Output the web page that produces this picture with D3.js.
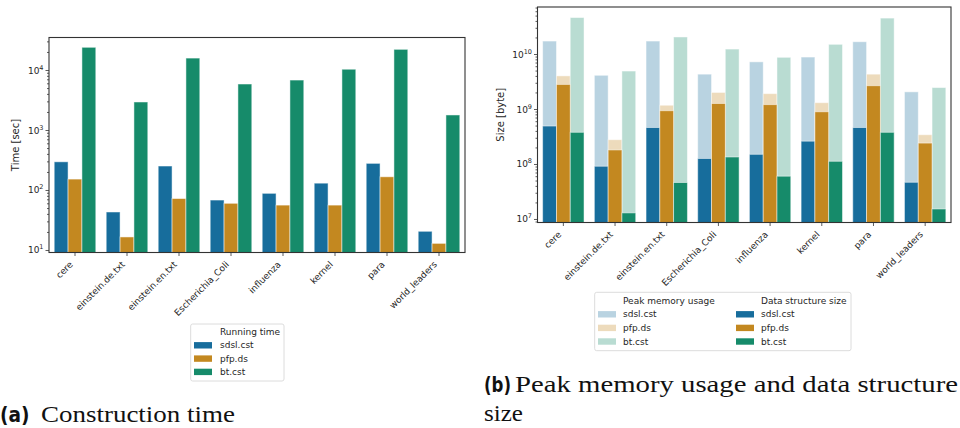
<!DOCTYPE html>
<html><head><meta charset="utf-8">
<script src="https://cdn.jsdelivr.net/npm/d3@7"></script>
<style>body{margin:0;background:#fff} svg{display:block}</style>
</head><body><svg id="c" width="960" height="428"></svg>
<script>
const categories = ["cere","einstein.de.txt","einstein.en.txt","Escherichia_Coli","influenza","kernel","para","world_leaders"];
const series = ["sdsl.cst","pfp.ds","bt.cst"];
const timeSdsl = [295,43,251,68,88,130,278,20.5];
const timePfp  = [152,16.5,72,60,56,56,166,12.9];
const timeBt   = [23900,2930,15800,5840,6800,10300,22100,1780];
const peakSdsl = [1.72e10,4.1e9,1.72e10,4.3e9,7.2e9,8.8e9,1.67e10,2.05e9];
const peakPfp  = [4.0e9,2.76e8,1.17e9,2.0e9,1.9e9,1.3e9,4.3e9,3.4e8];
const peakBt   = [4.6e10,4.9e9,2.04e10,1.23e10,8.7e9,1.5e10,4.5e10,2.45e9];
const sizeSdsl = [4.9e8,9.1e7,4.6e8,1.26e8,1.5e8,2.6e8,4.6e8,4.65e7];
const sizePfp  = [2.8e9,1.8e8,9.3e8,1.26e9,1.2e9,8.9e8,2.65e9,2.4e8];
const sizeBt   = [3.77e8,1.29e7,4.6e7,1.34e8,6.0e7,1.12e8,3.77e8,1.52e7];
const timeExponents = [1,2,3,4];
const sizeExponents = [7,8,9,10];
const colors = ["#176d9c","#c38820","#168b6a"];

const svg = d3.select("#c");
const FONT = "DejaVu Sans, sans-serif";
const TXT = "#262626";

function panel(o) {
  const g = svg.append("g");
  const x = d3.scaleBand().domain(categories).range([o.x0, o.x1]).paddingInner(0.2).paddingOuter(0.1);
  const xs = d3.scaleBand().domain(series).range([0, x.bandwidth()]);
  const y = d3.scaleLog().domain(o.domain).range([o.y1, o.y0]);

  function bars(layers, opacity) {
    layers.forEach((vals, si) => {
      g.append("g").selectAll("rect").data(vals).join("rect")
        .attr("x", (d, i) => x(categories[i]) + xs(series[si]))
        .attr("width", xs.bandwidth())
        .attr("y", d => y(d))
        .attr("height", d => o.y1 - y(d))
        .attr("fill", colors[si])
        .attr("fill-opacity", opacity)
        .attr("stroke", "#fff").attr("stroke-opacity", opacity < 1 ? 0.5 : 0.55).attr("stroke-width", 0.9);
    });
  }
  o.layers.forEach(l => bars(l.data, l.opacity));

  // minor ticks
  const lo = Math.floor(Math.log10(o.domain[0])), hi = Math.ceil(Math.log10(o.domain[1]));
  const minor = [];
  for (let e = lo; e <= hi; e++) for (let m = 2; m <= 9; m++) {
    const v = m * Math.pow(10, e);
    if (v > o.domain[0] && v < o.domain[1]) minor.push(v);
  }
  const major = o.exps.map(e => Math.pow(10, e));
  const ax = g.append("g").attr("transform", `translate(${o.x0},0)`);
  ax.call(d3.axisLeft(y).tickValues(minor).tickSize(2).tickFormat(() => ""));
  ax.append("g").call(d3.axisLeft(y).tickValues(major).tickSize(3.5).tickFormat(() => ""));
  ax.selectAll(".domain").remove();
  ax.selectAll("line").attr("stroke", "#333").attr("stroke-width", 0.8);
  // major labels
  const lab = g.append("g");
  o.exps.forEach(e => {
    const t = lab.append("text").attr("x", o.x0 - 5.5).attr("y", y(Math.pow(10, e)) + 3.5)
      .attr("text-anchor", "end").attr("font-family", FONT).attr("font-size", 9).attr("fill", TXT);
    t.append("tspan").text("10");
    t.append("tspan").attr("dy", -4).attr("font-size", 6.5).text(e);
  });
  // x axis
  const bx = g.append("g").attr("transform", `translate(0,${o.y1})`)
    .call(d3.axisBottom(x).tickSize(3.5).tickFormat(() => ""));
  bx.selectAll(".domain").remove();
  bx.selectAll("line").attr("stroke", "#333").attr("stroke-width", 0.8);
  g.append("g").selectAll("text").data(categories).join("text")
    .attr("transform", d => `translate(${x(d) + x.bandwidth() / 2 - 1.5},${o.y1 + 12.5}) rotate(-45)`)
    .attr("text-anchor", "end").attr("font-family", FONT).attr("font-size", 9).attr("fill", TXT)
    .text(d => d);
  // frame
  g.append("rect").attr("x", o.x0).attr("y", o.y0).attr("width", o.x1 - o.x0).attr("height", o.y1 - o.y0)
    .attr("fill", "none").attr("stroke", "#333").attr("stroke-width", 1.1);
  // y label
  g.append("text").attr("transform", `translate(${o.ylx},${(o.y0 + o.y1) / 2}) rotate(-90)`)
    .attr("text-anchor", "middle").attr("dominant-baseline", "central")
    .attr("font-family", FONT).attr("font-size", 10).attr("fill", TXT).text(o.ylabel);
}

panel({
  x0: 49, x1: 465, y0: 37.5, y1: 252.5,
  domain: [Math.pow(10, 0.9583), Math.pow(10, 4.5417)],
  exps: timeExponents, ylabel: "Time [sec]", ylx: 15,
  layers: [{data: [timeSdsl, timePfp, timeBt], opacity: 1}]
});
panel({
  x0: 537.5, x1: 951, y0: 7, y1: 222.5,
  domain: [Math.pow(10, 6.936), Math.pow(10, 10.855)],
  exps: sizeExponents, ylabel: "Size [byte]", ylx: 500,
  layers: [{data: [peakSdsl, peakPfp, peakBt], opacity: 0.3}, {data: [sizeSdsl, sizePfp, sizeBt], opacity: 1}]
});

function legendBox(x, y, w, h) {
  svg.append("rect").attr("x", x).attr("y", y).attr("width", w).attr("height", h).attr("rx", 2)
    .attr("fill", "#fff").attr("stroke", "#d8d8d8").attr("stroke-width", 0.9);
}
function legendText(x, yc, s) {
  svg.append("text").attr("x", x).attr("y", yc).attr("dominant-baseline", "central")
    .attr("font-family", FONT).attr("font-size", 9).attr("fill", TXT).text(s);
}
function legendPatch(x, yc, c, op) {
  svg.append("rect").attr("x", x).attr("y", yc - 3.2).attr("width", 18).attr("height", 6.4)
    .attr("fill", c).attr("fill-opacity", op);
}
// legend (a)
legendBox(190.7, 324, 93.3, 57);
legendText(220, 332, "Running time");
series.forEach((s, i) => { legendPatch(194, 345.3 + i * 13.3, colors[i], 1); legendText(220, 345.3 + i * 13.3, s); });
// legend (b)
legendBox(594.7, 292.3, 256.3, 58.4);
legendText(623, 300.7, "Peak memory usage");
legendText(761, 300.7, "Data structure size");
series.forEach((s, i) => {
  const yc = 314.3 + i * 13.6;
  legendPatch(598, yc, colors[i], 0.3); legendText(623, yc, s);
  legendPatch(736, yc, colors[i], 1); legendText(761, yc, s);
});

// captions
function tag(x, y, s, len) {
  svg.append("text").attr("x", x).attr("y", y).attr("fill", "#111")
    .attr("font-family", FONT).attr("font-weight", "bold").attr("font-size", 21)
    .attr("textLength", len).attr("lengthAdjust", "spacingAndGlyphs").text(s);
}
function serif(x, y, s, len) {
  svg.append("text").attr("x", x).attr("y", y).attr("fill", "#111")
    .attr("font-family", "Liberation Serif, serif").attr("font-size", 22.5)
    .attr("textLength", len).attr("lengthAdjust", "spacingAndGlyphs").text(s);
}
tag(0, 422, "(a)", 29.5);
serif(41, 422, "Construction time", 194);
tag(484, 392, "(b)", 27);
serif(515, 392, "Peak memory usage and data structure", 443);
serif(484, 421, "size", 39);
</script></body></html>
